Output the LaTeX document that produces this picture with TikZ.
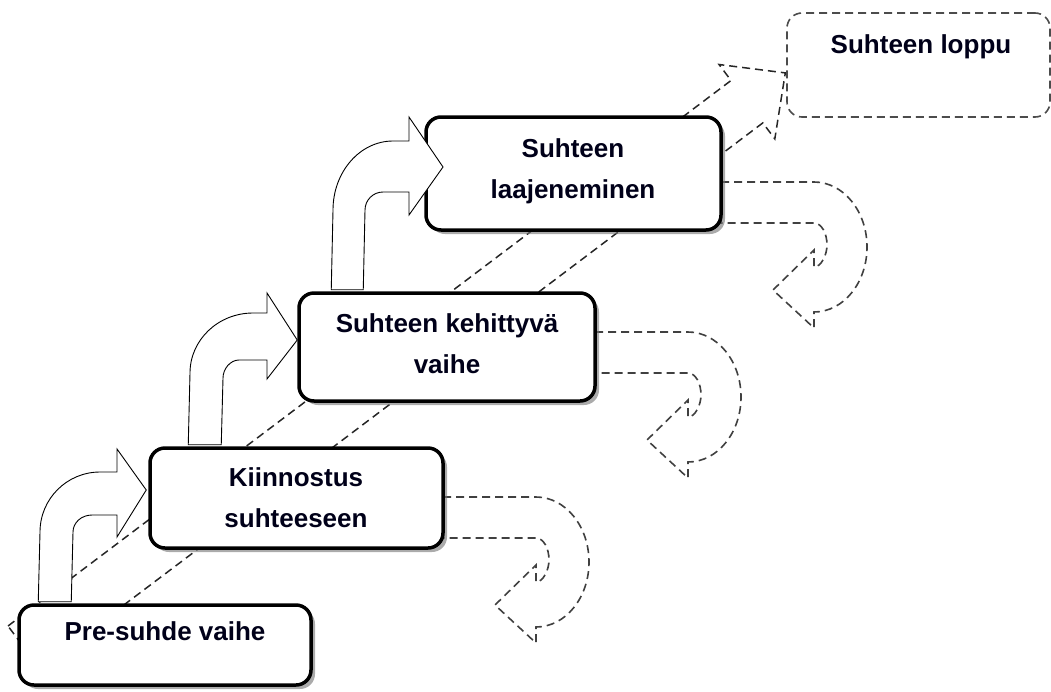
\documentclass[tikz,border=0pt]{standalone}
\usepackage{fontspec}
\setmainfont{Liberation Sans}
\usetikzlibrary{calc,shadows}
\begin{document}
\begin{tikzpicture}[x=1pt,y=-1pt]
\tikzset{
  stepbox/.style={draw=black, line width=3.5pt, rounded corners=15pt, fill=white, inner sep=0pt,
    drop shadow={shadow xshift=4pt, shadow yshift=-4pt, fill=black!55, opacity=0.6}},
  endbox/.style={draw=black!70, line width=1.6pt, dash pattern=on 8pt off 5pt, rounded corners=15pt, fill=white, inner sep=0pt},
  lbl/.style={font=\fontsize{26}{41}\selectfont\bfseries, text=black!90!blue, inner sep=0pt, anchor=base},
  gdash/.style={draw=black!75, line width=1.6pt, dash pattern=on 8pt off 5pt},
  bigdash/.style={draw=black!85, line width=1.5pt, dash pattern=on 8pt off 5pt},
  blockarrow/.style={draw=black, line width=0.9pt, fill=white, line join=miter},
  uturn/.pic={
    \draw[gdash] (0,0) -- (93,0) .. controls (122.3,0) and (146,29.1) .. (146,65)
      .. controls (146,100.9) and (122.3,130) .. (93,130) -- (93,146) -- (52,108) -- (93,68) -- (93,85)
      .. controls (100.2,85) and (106,72.8) .. (106,63) .. controls (106,50.8) and (100.2,41) .. (93,41)
      -- (0,41) -- cycle;
  }
}
\path[use as bounding box] (0,0) rectangle (1051,691);

% large dashed background arrow
\draw[bigdash] (8,626) -- (731,80.5) -- (719,64.5) -- (785.3,72.9) -- (774.8,138.9) -- (762.8,122.9) -- (39.8,668.4) -- cycle;

% u-turn dashed arrows
\pic at (443,497) {uturn};
\pic at (595,332) {uturn};
\pic at (721,182) {uturn};

% boxes
\node[stepbox, minimum width=292pt, minimum height=80pt] (b1) at (165,645) {};
\node[stepbox, minimum width=293pt, minimum height=100pt] (b2) at (296.5,498) {};
\node[stepbox, minimum width=296pt, minimum height=108pt] (b3) at (447,347) {};
\node[stepbox, minimum width=295pt, minimum height=113pt] (b4) at (573.5,173.5) {};
\node[endbox, minimum width=263pt, minimum height=104pt] (b5) at (918.5,65) {};

% solid bent block arrows
\draw[blockarrow] ($(b1.north west)+(21,-1.5)$) -- (40,532) .. controls (40,498.9) and (66.9,472) .. (100,472)
  -- (117,472) -- (117,449) -- ($(b2.west)+(-2,-8)$) -- (117,537) -- (117,515) -- (92,515)
  .. controls (81.5,515) and (73,522.6) .. (73,532) -- ($(b1.north west)+(54,-1.5)$) -- cycle;
\draw[blockarrow] ($(b2.north west)+(40,-1.5)$) -- (190,373) .. controls (190,339.9) and (218.2,313) .. (253,313)
  -- (267,313) -- (267,293) -- ($(b3.west)+(0,-7)$) -- (267,379) -- (267,360) -- (239,360)
  .. controls (230.2,360) and (223,369) .. (223,378) -- ($(b2.north west)+(73,-1.5)$) -- cycle;
\draw[blockarrow] ($(b3.north west)+(34,-1.5)$) -- (333,210) .. controls (333,171.9) and (359.9,141) .. (393,141)
  -- (409,141) -- (409,117) -- (443,167) -- (409,215) -- (409,192) -- (383,192)
  .. controls (373.1,192) and (365,200.1) .. (365,210) -- ($(b3.north west)+(66,-1.5)$) -- cycle;

% labels
\node[lbl] (t1) at (165,640) {Pre-suhde vaihe};
\node[lbl] (t2) at (296,486) {\begin{tabular}[t]{@{}c@{}}Kiinnostus\\suhteeseen\end{tabular}};
\node[lbl] (t3) at (447,332) {\begin{tabular}[t]{@{}c@{}}Suhteen kehittyvä\\vaihe\end{tabular}};
\node[lbl] (t4) at (573,157) {\begin{tabular}[t]{@{}c@{}}Suhteen\\laajeneminen\end{tabular}};
\node[lbl] (t5) at (921,53) {Suhteen loppu};
\end{tikzpicture}
\end{document}
